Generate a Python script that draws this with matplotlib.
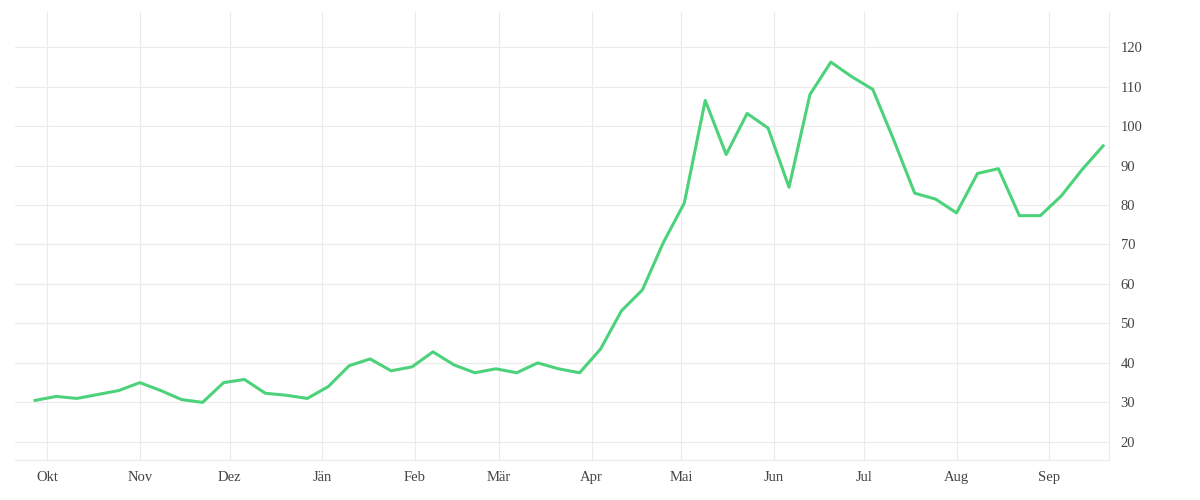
import numpy as np
import pandas as pd
import matplotlib
matplotlib.use("Agg")
import matplotlib.pyplot as plt
import matplotlib.dates as mdates

start = "2020-09-27"
values = [30.5, 31.5, 31, 32, 33, 35, 33, 30.7, 30, 35, 35.8, 32.3, 31.8, 31,
          34, 39.3, 41, 38, 39, 42.8, 39.5, 37.5, 38.5, 37.5, 40, 38.5, 37.5,
          43.5, 53.2, 58.5, 70.5, 80.5, 106.5, 92.8, 103.2, 99.5, 84.5, 108,
          116.2, 112.5, 109.3, 96.5, 83, 81.5, 78, 88, 89.2, 77.3, 77.3, 82.3,
          89, 95]
dates = pd.date_range(start, periods=len(values), freq="7D")
month_labels = ["Okt", "Nov", "Dez", "Jän", "Feb", "Mär", "Apr", "Mai", "Jun",
                "Jul", "Aug", "Sep"]
month_ticks = pd.date_range("2020-10-01", periods=12, freq="MS")

plt.rcParams['font.family'] = ['Liberation Serif', 'DejaVu Serif']
fig = plt.figure(figsize=(12, 5), dpi=100)
ax = fig.add_axes([0.0125, 0.08, 0.912, 0.896])
ax.plot(dates, values, color="#4cd27a", lw=2.2)

x0 = pd.Timestamp("2020-09-20 07:00")
ax.set_xlim(x0, x0 + pd.Timedelta(days=365.8))
ax.set_ylim(15.4, 128.9)
ax.set_xticks(month_ticks)
ax.set_xticklabels(month_labels)
ax.set_yticks(range(20, 121, 10))
ax.yaxis.tick_right()
ax.tick_params(length=0, labelsize=10.5, colors="#444444", pad=8)
ax.grid(color="#ebebeb", lw=0.8)
for s in ["top", "left"]:
    ax.spines[s].set_visible(False)
ax.spines["right"].set_color("#ebebeb")
ax.spines["bottom"].set_color("#ebebeb")
ax.set_axisbelow(True)
fig.savefig("out.png")
